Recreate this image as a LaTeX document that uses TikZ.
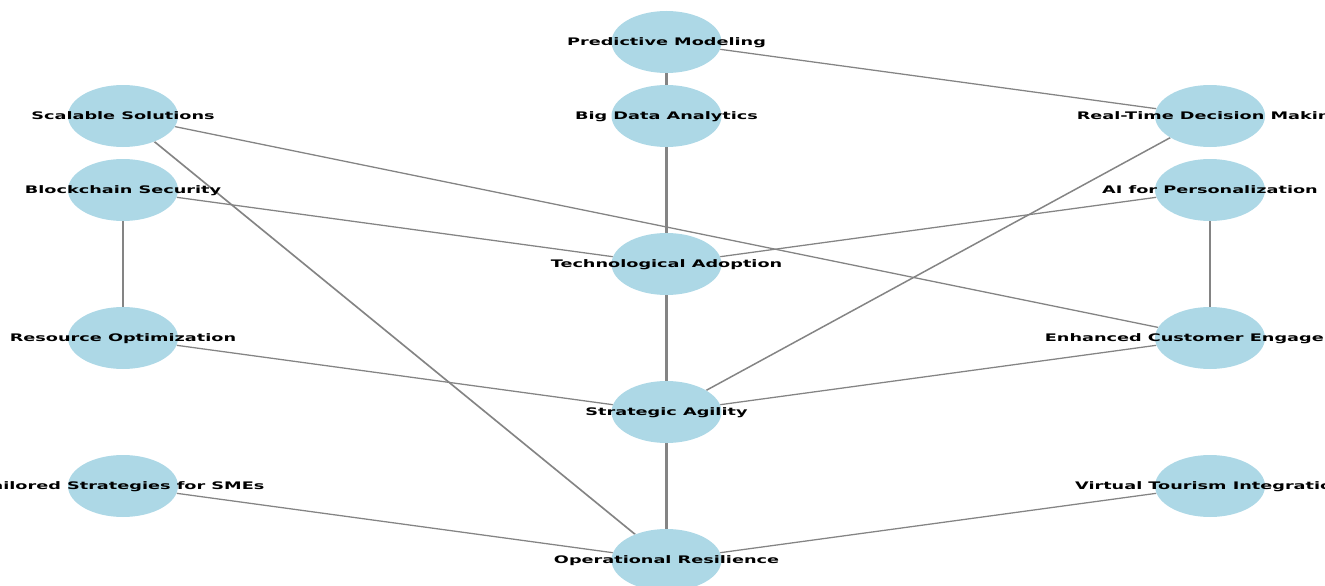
\documentclass[tikz,border=0pt]{standalone}
\usepackage{fontspec}
\setmainfont{DejaVu Sans}
\usetikzlibrary{shapes.geometric}
\definecolor{nodeblue}{RGB}{173,216,230}
\definecolor{edgegray}{RGB}{132,132,132}
\pgfdeclarelayer{background}
\pgfsetlayers{background,main}
\tikzset{
  concept/.style={ellipse, fill=nodeblue, draw=none, inner sep=0pt,
    minimum width=64.7pt, minimum height=62pt,
    font=\fontsize{10.4}{12}\selectfont\bfseries, text=black},
  link/.style={draw=edgegray, line width=1.25pt},
}
\newcommand{\lbl}[1]{\makebox[0pt][c]{\smash{\raisebox{-3.3pt}{#1}}}}
\begin{document}
\begin{tikzpicture}[x=1pt,y=-1pt]
\useasboundingbox (0,0) rectangle (1325,586);
\clip (0,0) rectangle (1325,586);
\begin{scope}[transform canvas={xscale=1.7}, x=0.5882353pt]
\node[concept] (pm)  at (666.5,42)  {\lbl{Predictive Modeling}};
\node[concept] (bda) at (666.5,116) {\lbl{Big Data Analytics}};
\node[concept] (ss)  at (123,116)   {\lbl{Scalable Solutions}};
\node[concept] (rt)  at (1210,116)  {\lbl{Real-Time Decision Making}};
\node[concept] (bs)  at (123,190)   {\lbl{Blockchain Security}};
\node[concept] (ai)  at (1210,190)  {\lbl{AI for Personalization}};
\node[concept] (ta)  at (666.5,264) {\lbl{Technological Adoption}};
\node[concept] (ro)  at (123,338)   {\lbl{Resource Optimization}};
\node[concept] (ece) at (1210,338)  {\lbl{Enhanced Customer Engagement}};
\node[concept] (sa)  at (666.5,412) {\lbl{Strategic Agility}};
\node[concept] (tss) at (123,486)   {\lbl{Tailored Strategies for SMEs}};
\node[concept] (vti) at (1210,486)  {\lbl{Virtual Tourism Integration}};
\node[concept] (ore) at (666.5,560) {\lbl{Operational Resilience}};
\end{scope}
\begin{pgfonlayer}{background}
\begin{scope}[transform canvas={xscale=1.7}]
\draw[link] (pm) -- (bda);
\draw[link] (pm) -- (rt);
\draw[link] (bda) -- (ta);
\draw[link] (ss) -- (ece);
\draw[link] (ss) -- (ore);
\draw[link] (bs) -- (ta);
\draw[link] (bs) -- (ro);
\draw[link] (ai) -- (ta);
\draw[link] (ai) -- (ece);
\draw[link] (rt) -- (sa);
\draw[link] (ta) -- (sa);
\draw[link] (ro) -- (sa);
\draw[link] (ece) -- (sa);
\draw[link] (sa) -- (ore);
\draw[link] (tss) -- (ore);
\draw[link] (vti) -- (ore);
\end{scope}
\end{pgfonlayer}
\end{tikzpicture}
\end{document}
